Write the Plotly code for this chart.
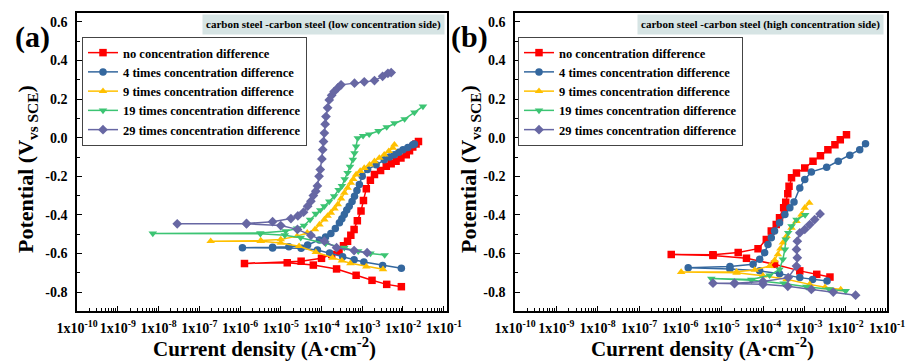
import plotly.graph_objects as go

# ---------------- data (log10 current density, potential V vs SCE) ----------------
series_names = ["no concentration difference", "4 times concentration difference",
                "9 times concentration difference", "19 times concentration difference",
                "29 times concentration difference"]

# panel (a): low concentration side
a_red_logI = [-2.04, -2.40, -2.76, -3.15, -3.63, -4.2, -4.84, -5.89,
              -4.5, -4.0, -3.75, -3.57, -3.46, -3.36, -3.28, -3.20, -3.12, -3.03, -2.97, -2.90,
              -2.80, -2.70, -2.55, -2.41, -2.29, -2.17, -2.05, -1.92, -1.84, -1.76, -1.68, -1.62]
a_red_V = [-0.772, -0.760, -0.739, -0.713, -0.680, -0.660, -0.648, -0.652,
           -0.640, -0.625, -0.605, -0.588, -0.560, -0.536, -0.505, -0.475, -0.430, -0.380, -0.325, -0.265,
           -0.220, -0.191, -0.170, -0.148, -0.135, -0.122, -0.105, -0.088, -0.068, -0.048, -0.032, -0.019]

a_blue_logI = [-2.04, -2.5, -2.96, -3.2, -3.48, -3.8, -4.1, -4.5, -5.2, -5.94,
               -5.2, -4.8, -4.34, -4.05, -3.9, -3.77, -3.66, -3.56, -3.50, -3.44, -3.38, -3.32, -3.25,
               -3.19, -3.13, -3.07, -3.0, -2.87, -2.66, -2.46, -2.33, -2.21, -2.10, -2.0, -1.88, -1.76, -1.72]
a_blue_V = [-0.677, -0.662, -0.644, -0.632, -0.617, -0.597, -0.582, -0.573, -0.571, -0.570,
            -0.568, -0.565, -0.556, -0.530, -0.515, -0.496, -0.470, -0.441, -0.420, -0.398, -0.375, -0.355, -0.330,
            -0.303, -0.273, -0.243, -0.200, -0.165, -0.140, -0.114, -0.100, -0.088, -0.075, -0.062, -0.050, -0.036, -0.033]

a_yel_logI = [-2.49, -2.9, -3.29, -3.5, -3.73, -4.14, -4.55, -5.0, -5.49, -6.72,
              -5.49, -5.0, -4.6, -4.35, -4.16, -4.05, -3.93, -3.85, -3.77, -3.68, -3.60, -3.52, -3.44,
              -3.36, -3.28, -3.22, -3.15, -3.05, -2.95, -2.82, -2.70, -2.58, -2.46, -2.35, -2.25, -2.21]
a_yel_V = [-0.682, -0.668, -0.651, -0.637, -0.622, -0.593, -0.562, -0.545, -0.536, -0.536,
           -0.533, -0.527, -0.510, -0.493, -0.475, -0.450, -0.424, -0.405, -0.389, -0.368, -0.346, -0.315, -0.286,
           -0.260, -0.234, -0.215, -0.191, -0.173, -0.157, -0.140, -0.122, -0.105, -0.088, -0.070, -0.053, -0.036]

a_grn_logI = [-2.45, -2.8, -3.1, -3.44, -3.9, -4.51, -4.9, -5.5, -8.14,
              -5.5, -4.88, -4.6, -4.43, -4.28, -4.14, -4.03, -3.93, -3.81, -3.69, -3.58, -3.50, -3.43,
              -3.36, -3.30, -3.23, -3.19, -3.15, -3.11, -2.98, -2.83, -2.6, -2.4, -2.21, -1.96, -1.72, -1.51]
a_grn_V = [-0.608, -0.600, -0.588, -0.570, -0.548, -0.518, -0.505, -0.498, -0.496,
           -0.494, -0.484, -0.470, -0.455, -0.425, -0.394, -0.375, -0.355, -0.330, -0.303, -0.270, -0.250, -0.215,
           -0.182, -0.150, -0.114, -0.080, -0.045, -0.002, 0.010, 0.018, 0.035, 0.055, 0.076, 0.097, 0.131, 0.162]

a_pur_logI = [-2.88, -3.2, -3.63, -3.93, -4.26, -4.59, -5.0, -5.84, -7.54,
              -5.84, -5.2, -4.75, -4.58, -4.44, -4.34, -4.26, -4.20, -4.14, -4.10, -4.06, -4.03, -3.99,
              -3.97, -3.95, -3.93, -3.91, -3.89, -3.85, -3.81, -3.75, -3.69, -3.60, -3.52, -3.19, -2.95,
              -2.70, -2.50, -2.37, -2.29]
a_pur_V = [-0.596, -0.585, -0.570, -0.536, -0.506, -0.475, -0.455, -0.446, -0.446,
           -0.444, -0.435, -0.419, -0.405, -0.386, -0.355, -0.329, -0.300, -0.277, -0.250, -0.200, -0.165, -0.110,
           -0.062, -0.020, 0.024, 0.070, 0.110, 0.155, 0.196, 0.220, 0.239, 0.258, 0.274, 0.283, 0.290,
           0.296, 0.318, 0.334, 0.338]

# panel (b): high concentration side
b_red_logI = [-2.38, -2.7, -3.11, -3.72, -4.4, -5.21, -6.22,
              -5.21, -4.6, -4.12, -3.92, -3.80, -3.68, -3.60, -3.50, -3.45, -3.40, -3.37, -3.31,
              -3.19, -2.99, -2.79, -2.61, -2.43, -2.26, -2.13, -1.98]
b_red_V = [-0.722, -0.708, -0.690, -0.656, -0.625, -0.610, -0.605,
           -0.607, -0.595, -0.575, -0.527, -0.484, -0.450, -0.415, -0.363, -0.335, -0.290, -0.252, -0.208,
           -0.183, -0.157, -0.122, -0.093, -0.062, -0.036, -0.010, 0.016]

b_blue_logI = [-2.45, -2.8, -3.11, -3.6, -4.08, -4.8, -5.81,
               -4.8, -4.24, -4.08, -3.96, -3.88, -3.80, -3.72, -3.60, -3.47, -3.35, -3.25, -3.11,
               -2.99, -2.83, -2.46, -2.18, -1.90, -1.66, -1.52]
b_blue_V = [-0.742, -0.735, -0.725, -0.705, -0.690, -0.680, -0.674,
            -0.668, -0.656, -0.630, -0.596, -0.553, -0.518, -0.484, -0.441, -0.398, -0.363, -0.333, -0.260,
            -0.217, -0.177, -0.153, -0.122, -0.091, -0.062, -0.031]

b_yel_logI = [-2.12, -2.5, -2.87, -3.43, -4.0, -4.64, -5.98,
              -4.64, -4.2, -3.84, -3.72, -3.64, -3.58, -3.52, -3.43, -3.31, -3.19, -3.07, -2.99, -2.88]
b_yel_V = [-0.786, -0.775, -0.760, -0.734, -0.715, -0.700, -0.696,
           -0.694, -0.685, -0.665, -0.635, -0.605, -0.575, -0.544, -0.510, -0.467, -0.432, -0.398, -0.363, -0.338]

b_grn_logI = [-2.0, -2.4, -2.95, -3.5, -4.28, -5.25,
              -4.28, -3.84, -3.60, -3.52, -3.47, -3.45, -3.39, -3.31, -3.19, -2.98]
b_grn_V = [-0.794, -0.785, -0.772, -0.755, -0.739, -0.730,
           -0.735, -0.713, -0.682, -0.630, -0.579, -0.527, -0.493, -0.458, -0.424, -0.400]

b_pur_logI = [-1.76, -2.3, -2.83, -3.4, -4.0, -4.69, -5.21,
              -4.69, -4.0, -3.39, -3.19, -3.17, -3.19, -3.17, -3.11, -2.99, -2.87, -2.75, -2.62]
b_pur_V = [-0.816, -0.800, -0.786, -0.770, -0.760, -0.756, -0.754,
           -0.754, -0.745, -0.725, -0.665, -0.622, -0.579, -0.536, -0.493, -0.475, -0.450, -0.424, -0.395]

x_tick_exp = [-10, -9, -8, -7, -6, -5, -4, -3, -2, -1]
y_tick_vals = [0.6, 0.4, 0.2, 0.0, -0.2, -0.4, -0.6, -0.8]
y_tick_text = ["0.6", "0.4", "0.2", "0.0", "-0.2", "-0.4", "-0.6", "-0.8"]

# ---------------- styling ----------------
colors = ["#ff0000", "#34679e", "#ffc000", "#3cc473", "#6767a3"]
symbols = ["square", "circle", "triangle-up", "triangle-down", "diamond"]
FONT = "Liberation Serif, Times New Roman, serif"

W, H = 907, 361
def px_x(p):
    return p / W
def px_y(p):
    return 1 - p / H

fig = go.Figure()

panel_a = [(a_red_logI, a_red_V), (a_blue_logI, a_blue_V), (a_yel_logI, a_yel_V),
           (a_grn_logI, a_grn_V), (a_pur_logI, a_pur_V)]
panel_b = [(b_red_logI, b_red_V), (b_blue_logI, b_blue_V), (b_yel_logI, b_yel_V),
           (b_grn_logI, b_grn_V), (b_pur_logI, b_pur_V)]

for k, (lx, vy) in enumerate(panel_a):
    fig.add_trace(go.Scatter(
        x=[10 ** v for v in lx], y=vy, mode="lines+markers", name=series_names[k],
        line=dict(color=colors[k], width=1.5),
        marker=dict(symbol=symbols[k], size=7.5, color=colors[k]),
        xaxis="x", yaxis="y", legend="legend"))
for k, (lx, vy) in enumerate(panel_b):
    fig.add_trace(go.Scatter(
        x=[10 ** v for v in lx], y=vy, mode="lines+markers", name=series_names[k],
        line=dict(color=colors[k], width=1.5),
        marker=dict(symbol=symbols[k], size=7.5, color=colors[k]),
        xaxis="x2", yaxis="y2", legend="legend2"))

tickfont = dict(family=FONT, size=14, color="black", weight="bold")
xt_vals = [10.0 ** e for e in x_tick_exp]
xt_text = ["1x10<sup>%d</sup>" % e for e in x_tick_exp]

def xaxis(domain, rng, anchor):
    return dict(type="log", domain=domain, range=rng, anchor=anchor, automargin=False,
                tickmode="array", tickvals=xt_vals, ticktext=xt_text, tickangle=0,
                ticks="inside", ticklen=5, tickwidth=1.2, tickcolor="black",
                minor=dict(ticks="inside", ticklen=3, tickwidth=1, tickcolor="black", dtick="D1", showgrid=False),
                showline=True, linecolor="black", linewidth=1.5, mirror=True,
                showgrid=False, zeroline=False, tickfont=tickfont, ticklabelstandoff=3)

def yaxis(anchor):
    return dict(domain=[1 - 311 / H, 1 - 12.7 / H], range=[-0.898, 0.648], anchor=anchor, automargin=False,
                tickmode="array", tickvals=y_tick_vals, ticktext=y_tick_text,
                ticks="inside", ticklen=5, tickwidth=1.2, tickcolor="black",
                minor=dict(ticks="inside", ticklen=3, tickwidth=1, tickcolor="black", dtick=0.1,
                           tick0=0, showgrid=False),
                showline=True, linecolor="black", linewidth=1.5, mirror=True,
                showgrid=False, zeroline=False, tickfont=tickfont, ticklabelstandoff=5)

legend_common = dict(font=dict(family=FONT, size=12.5, color="black", weight="bold"),
                     bgcolor="white", bordercolor="#444444", borderwidth=1,
                     xanchor="left", yanchor="top", tracegroupgap=0, itemwidth=30)

fig.update_layout(
    template="none",
    width=W, height=H, margin=dict(l=0, r=0, t=0, b=0, pad=0, autoexpand=False),
    paper_bgcolor="white", plot_bgcolor="white",
    xaxis=xaxis([px_x(77), px_x(447)], [-10, -0.92], "y"),
    yaxis=yaxis("x"),
    xaxis2=xaxis([px_x(515), px_x(887)], [-10, -1.0], "y2"),
    yaxis2=yaxis("x2"),
    legend=dict(x=px_x(82), y=px_y(37), **legend_common),
    legend2=dict(x=px_x(518), y=px_y(37), **legend_common),
    showlegend=True,
)

anns = []
title_font = dict(family=FONT, size=21, color="black", weight="bold")
# axis titles
for cx in (264, 702):
    anns.append(dict(text="Current density (A·cm<sup>-2</sup>)", x=px_x(cx), y=px_y(347),
                     xref="paper", yref="paper", xanchor="center", yanchor="middle",
                     showarrow=False, font=title_font))
for cy_x in (27, 470):
    anns.append(dict(text="Potential (V<sub>vs SCE</sub>)", x=px_x(cy_x), y=px_y(169),
                     xref="paper", yref="paper", xanchor="center", yanchor="middle",
                     textangle=-90, showarrow=False, font=dict(family=FONT, size=22, color="black", weight="bold")))
# panel letters
for lab, cx in (("(a)", 32), ("(b)", 470)):
    anns.append(dict(text=lab, x=px_x(cx), y=px_y(37), xref="paper", yref="paper",
                     xanchor="center", yanchor="middle", showarrow=False,
                     font=dict(family=FONT, size=30, color="black", weight="bold")))
# boxed titles
for txt, rx in (("carbon steel -carbon steel (low concentration side)", 445),
                ("carbon steel -carbon steel (high concentration side)", 884)):
    anns.append(dict(text=txt, x=px_x(rx), y=px_y(14), xref="paper", yref="paper",
                     xanchor="right", yanchor="top", showarrow=False, bgcolor="#d6e4e4",
                     borderpad=3, font=dict(family=FONT, size=11, color="black", weight="bold")))
fig.update_layout(annotations=anns)

fig.write_html("out.html", config={"displayModeBar": False},
               post_script="document.body.style.margin='0';document.body.style.padding='0';")
